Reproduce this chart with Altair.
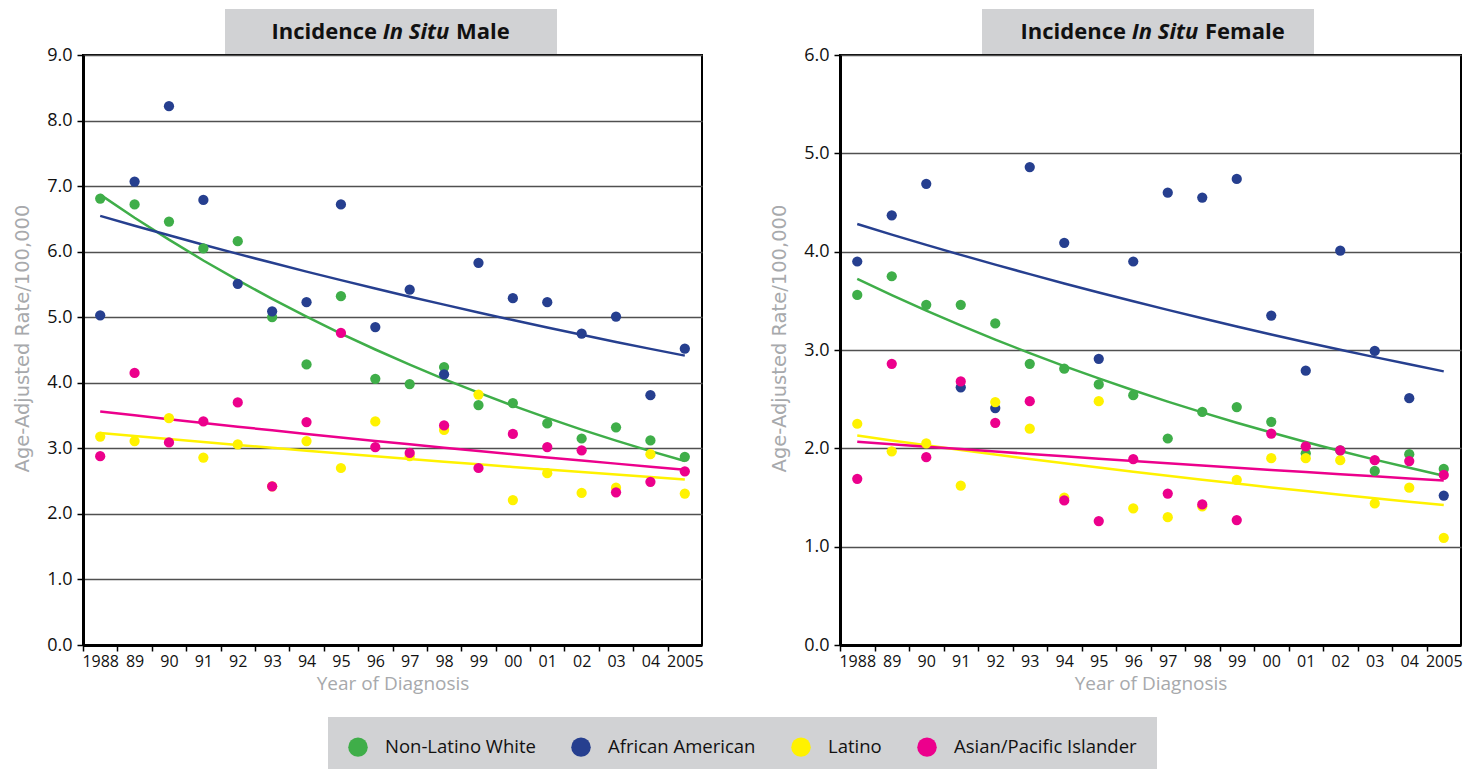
import json
import altair as alt
import pandas as pd

years = list(range(1988, 2006))
year_labels = ["1988", "89", "90", "91", "92", "93", "94", "95", "96", "97",
               "98", "99", "00", "01", "02", "03", "04", "2005"]
groups = ["Non-Latino White", "African American", "Latino", "Asian/Pacific Islander"]
colors = ["#3fae49", "#263f8f", "#fff200", "#ec008c"]

male_white = [6.81, 6.72, 6.46, 6.05, 6.16, 5.00, 4.28, 5.32, 4.06, 3.98, 4.24, 3.66, 3.69, 3.38, 3.15, 3.32, 3.12, 2.87]
male_black = [5.03, 7.07, 8.22, 6.79, 5.51, 5.09, 5.23, 6.72, 4.85, 5.42, 4.13, 5.83, 5.29, 5.23, 4.75, 5.01, 3.81, 4.52]
male_latino = [3.18, 3.11, 3.46, 2.86, 3.06, 2.42, 3.11, 2.70, 3.41, 2.88, 3.28, 3.82, 2.21, 2.62, 2.32, 2.40, 2.91, 2.31]
male_asian = [2.88, 4.15, 3.09, 3.41, 3.70, 2.42, 3.40, 4.76, 3.02, 2.93, 3.35, 2.70, 3.22, 3.02, 2.97, 2.33, 2.49, 2.65]

female_white = [3.56, 3.75, 3.46, 3.46, 3.27, 2.86, 2.81, 2.65, 2.54, 2.10, 2.37, 2.42, 2.27, 1.95, 1.98, 1.77, 1.94, 1.79]
female_black = [3.90, 4.37, 4.69, 2.62, 2.41, 4.86, 4.09, 2.91, 3.90, 4.60, 4.55, 4.74, 3.35, 2.79, 4.01, 2.99, 2.51, 1.52]
female_latino = [2.25, 1.97, 2.05, 1.62, 2.47, 2.20, 1.50, 2.48, 1.39, 1.30, 1.41, 1.68, 1.90, 1.90, 1.88, 1.44, 1.60, 1.09]
female_asian = [1.69, 2.86, 1.91, 2.68, 2.26, 2.48, 1.47, 1.26, 1.89, 1.54, 1.43, 1.27, 2.15, 2.02, 1.98, 1.88, 1.87, 1.73]


def make_df(series):
    rows = []
    for g, vals in zip(groups, series):
        for yr, v in zip(years, vals):
            rows.append({"group": g, "year": yr, "rate": v})
    return pd.DataFrame(rows)


male_df = make_df([male_white, male_black, male_latino, male_asian])
female_df = make_df([female_white, female_black, female_latino, female_asian])

FONT = "Open Sans"
TXT = "#111111"
GRAY_T = "#a7a9ac"
label_expr = json.dumps(year_labels) + "[round(datum.value - 1987.5)]"

legend_left = alt.Legend(
    orient="none", legendX=245, legendY=662, direction="horizontal", title=None,
    fillColor="#d1d2d4", padding=20, symbolType="circle", symbolSize=380,
    symbolStrokeWidth=0, symbolOpacity=1, labelFont=FONT, labelFontSize=18.5,
    labelColor=TXT, labelOffset=17, columnPadding=35, labelLimit=400,
)


def panel(df, ymax, width, height, sex, cx, legend):
    xscale = alt.Scale(domain=[1987.5, 2005.5], nice=False, zero=False)
    yscale = alt.Scale(domain=[0, ymax], nice=False)
    xaxis = alt.Axis(
        values=[1987.5 + i for i in range(18)], labelExpr=label_expr,
        labelOffset=width / 36.0, labelFlush=False, labelOverlap=False,
        labelBound=False, labelSeparation=0,
        grid=False, tickSize=6, tickColor="black", tickWidth=1.5,
        domainColor="black", domainWidth=3, labelFont=FONT, labelFontSize=16,
        labelColor=TXT, labelPadding=2, titleFont=FONT, titleFontSize=19,
        titleColor=GRAY_T, titleFontWeight="normal", titlePadding=5,
        title="Year of Diagnosis",
    )
    yaxis = alt.Axis(
        values=list(range(0, ymax + 1)), format=".1f", grid=True,
        gridColor="#505050", gridWidth=1.5, tickSize=6, tickColor="black",
        tickWidth=1.5, domainColor="black", domainWidth=3, labelFont=FONT,
        labelFontSize=18, labelColor=TXT, labelPadding=5, labelOverlap=False,
        titleFont="DejaVu Sans", titleFontSize=19.5, titleColor=GRAY_T,
        titleFontWeight="normal", titlePadding=14, titleY=height / 2 - 12,
        title="Age-Adjusted Rate/100,000",
    )
    base = alt.Chart(df)
    lines = base.transform_calculate(
        ly="log(datum.rate)", xc="datum.year - 1996.5", series="datum.group"
    ).transform_calculate(
        xly="datum.xc * datum.ly", xx="datum.xc * datum.xc"
    ).transform_joinaggregate(
        mly="mean(ly)", mxly="mean(xly)", mxx="mean(xx)", mx="mean(xc)",
        groupby=["series"],
    ).transform_calculate(
        fit="exp(datum.mly + (datum.mxly - datum.mx * datum.mly) / "
            "(datum.mxx - datum.mx * datum.mx) * (datum.xc - datum.mx))"
    ).mark_line(strokeWidth=2.5).encode(
        x=alt.X("year:Q", scale=xscale, axis=xaxis),
        y=alt.Y("fit:Q", scale=yscale, axis=yaxis),
        stroke=alt.Stroke("series:N", scale=alt.Scale(domain=groups, range=colors), legend=None),
    )
    points = base.mark_circle(size=105, opacity=1).encode(
        x=alt.X("year:Q", scale=xscale, axis=xaxis),
        y=alt.Y("rate:Q", scale=yscale, axis=yaxis),
        color=alt.Color("group:N", scale=alt.Scale(domain=groups, range=colors), legend=legend),
    )
    one = alt.Chart(pd.DataFrame({"k": [0]}))
    box = one.mark_rect(color="#d1d2d4").encode(
        x=alt.value(142), x2=alt.value(474), y=alt.value(-46), y2=alt.value(-1)
    )
    ty = -23
    t1 = one.mark_text(text="Incidence", font=FONT, fontSize=22, fontWeight="bold",
                       align="right", baseline="middle", color=TXT).encode(
        x=alt.value(cx - 39), y=alt.value(ty))
    t2 = one.mark_text(text="In Situ", font=FONT, fontSize=22, fontWeight="bold",
                       fontStyle="italic", align="center", baseline="middle",
                       color=TXT).encode(x=alt.value(cx), y=alt.value(ty))
    t3 = one.mark_text(text=sex, font=FONT, fontSize=22, fontWeight="bold",
                       align="left", baseline="middle", color=TXT).encode(
        x=alt.value(cx + 40), y=alt.value(ty))
    return alt.layer(box, t1, t2, t3, lines, points).properties(width=width, height=height)


left = panel(male_df, 9, 619, 590, "Male", 333, legend_left)
right = panel(female_df, 6, 621, 590, "Female", 325, None)

chart = alt.hconcat(left, right, spacing=138).resolve_legend(color="independent").properties(
    bounds="flush",
    padding={"left": 3, "top": 0, "right": 0, "bottom": 0},
).configure_view(stroke="black", strokeWidth=2).configure_axisX(labelOverlap=False)

chart.save("out.html", embed_options={"renderer": "svg", "actions": False})
